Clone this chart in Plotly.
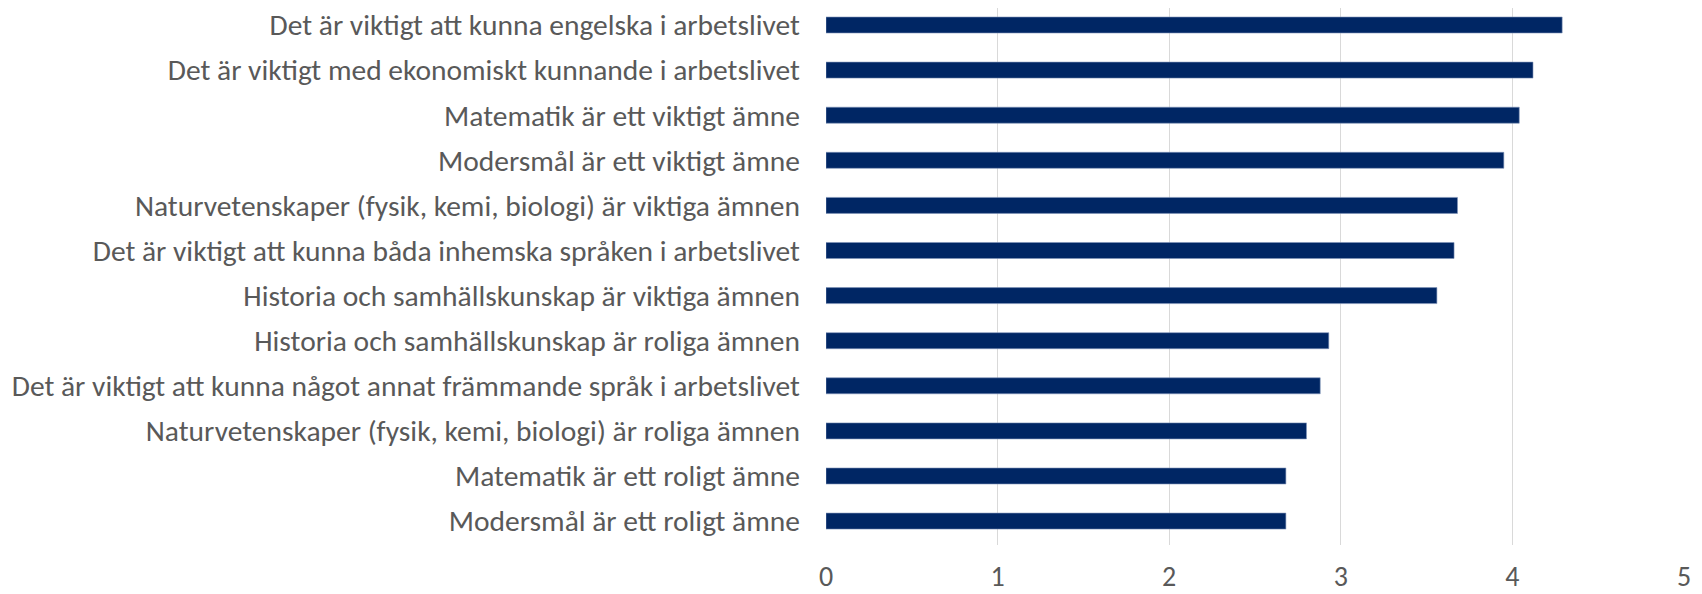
import plotly.graph_objects as go

categories = [
    "Det är viktigt att kunna engelska i arbetslivet",
    "Det är viktigt med ekonomiskt kunnande i arbetslivet",
    "Matematik är ett viktigt ämne",
    "Modersmål är ett viktigt ämne",
    "Naturvetenskaper (fysik, kemi, biologi) är viktiga ämnen",
    "Det är viktigt att kunna båda inhemska språken i arbetslivet",
    "Historia och samhällskunskap är viktiga ämnen",
    "Historia och samhällskunskap är roliga ämnen",
    "Det är viktigt att kunna något annat främmande språk i arbetslivet",
    "Naturvetenskaper (fysik, kemi, biologi) är roliga ämnen",
    "Matematik är ett roligt ämne",
    "Modersmål är ett roligt ämne",
]
values = [4.29, 4.12, 4.04, 3.95, 3.68, 3.66, 3.56, 2.93, 2.88, 2.80, 2.68, 2.68]
x_ticks = [0, 1, 2, 3, 4, 5]

fig = go.Figure(
    go.Bar(
        x=values,
        y=categories,
        orientation="h",
        marker=dict(color="#002664", line=dict(color="#7f93b8", width=0.6)),
        hoverinfo="x+y",
    )
)

font_family = "Carlito, Calibri, Lato, sans-serif"

fig.update_layout(
    width=1694,
    height=586,
    margin=dict(l=818, r=18, t=0, b=49, pad=0),
    paper_bgcolor="white",
    plot_bgcolor="white",
    bargap=0.645,
    showlegend=False,
    font=dict(family=font_family, size=29.5, color="#595959"),
)
fig.update_xaxes(
    range=[0, 5],
    tickvals=x_ticks,
    ticktext=[str(t) for t in x_ticks],
    showgrid=True,
    gridcolor="#d9d9d9",
    gridwidth=1.3,
    zeroline=False,
    showline=False,
    ticks="",
    automargin=False,
    ticklabelstandoff=12,
    tickfont=dict(size=28, color="#595959"),
    fixedrange=True,
)
fig.update_yaxes(
    range=[11.53, -0.377],
    showgrid=False,
    zeroline=False,
    showline=False,
    ticks="",
    automargin=False,
    ticklabelstandoff=25,
    tickfont=dict(size=29.5, color="#595959"),
    fixedrange=True,
)

fig.write_html("out.html")
